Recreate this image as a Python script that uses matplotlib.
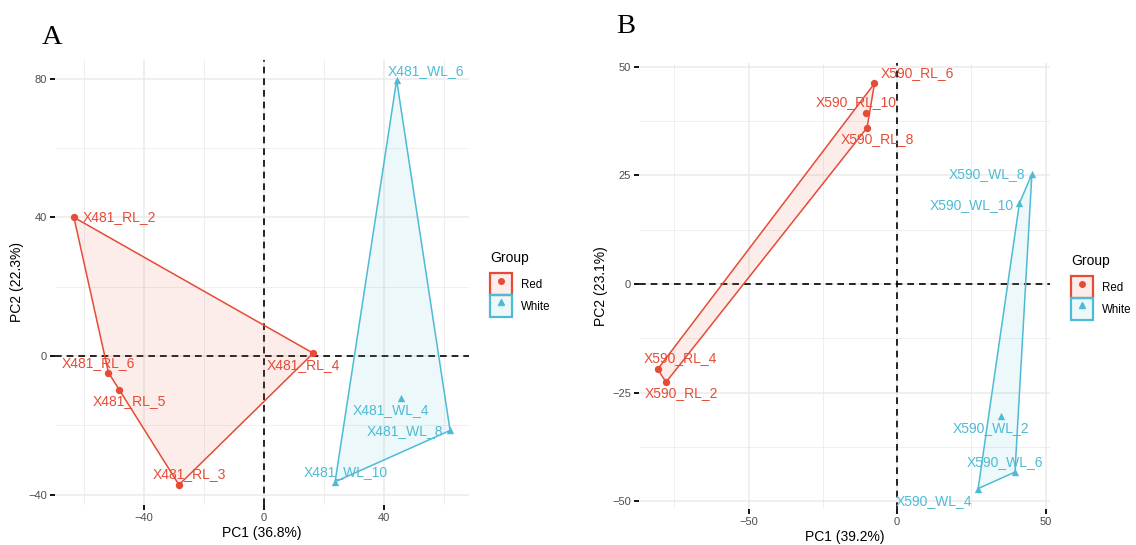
import matplotlib
matplotlib.use("Agg")
import matplotlib.pyplot as plt
from matplotlib.patches import Patch, Polygon
from matplotlib.lines import Line2D
import numpy as np

plt.rcParams['font.family'] = ['Liberation Sans', 'DejaVu Sans']

RED = "#E64B35"
BLUE = "#4DBBD5"

# panel A samples
a_red_names = ["X481_RL_2", "X481_RL_6", "X481_RL_5", "X481_RL_3", "X481_RL_4"]
a_red_pc1 = [-63.3, -51.8, -48.2, -28.3, 16.4]
a_red_pc2 = [40.0, -4.8, -9.7, -37.2, 0.8]
a_white_names = ["X481_WL_6", "X481_WL_4", "X481_WL_8", "X481_WL_10"]
a_white_pc1 = [44.2, 45.6, 62.0, 23.7]
a_white_pc2 = [79.6, -12.0, -21.5, -36.3]

# panel B samples
b_red_names = ["X590_RL_6", "X590_RL_10", "X590_RL_8", "X590_RL_4", "X590_RL_2"]
b_red_pc1 = [-7.6, -10.3, -10.1, -80.6, -77.8]
b_red_pc2 = [46.2, 39.3, 36.0, -19.6, -22.6]
b_white_names = ["X590_WL_8", "X590_WL_10", "X590_WL_2", "X590_WL_6", "X590_WL_4"]
b_white_pc1 = [45.4, 41.2, 35.0, 39.7, 27.3]
b_white_pc2 = [25.3, 18.6, -30.5, -43.3, -47.1]

# label offsets in pixels (dx, dy)
a_red_off = [(46, 0), (-10, 10), (10, -11), (10, 11), (-10, -12)]
a_white_off = [(29, 9), (-10, -12), (-45, -1), (11, 10)]
b_red_off = [(43, 10), (-10, 11), (10, -11), (23, 11), (15, -11)]
b_white_off = [(-45, 0), (-48, -2), (-10, -12), (-10, 10), (-44, -12)]


def hull(xs, ys):
    pts = sorted(zip(xs, ys))
    def cross(o, a, b):
        return (a[0]-o[0])*(b[1]-o[1]) - (a[1]-o[1])*(b[0]-o[0])
    lower, upper = [], []
    for p in pts:
        while len(lower) >= 2 and cross(lower[-2], lower[-1], p) <= 0:
            lower.pop()
        lower.append(p)
    for p in reversed(pts):
        while len(upper) >= 2 and cross(upper[-2], upper[-1], p) <= 0:
            upper.pop()
        upper.append(p)
    return lower[:-1] + upper[:-1]


def draw_group(ax, xs, ys, names, offs, color, marker):
    h = hull(xs, ys)
    ax.add_patch(Polygon(h, closed=True, facecolor=color, alpha=0.1, edgecolor='none', zorder=2))
    ax.add_patch(Polygon(h, closed=True, facecolor='none', edgecolor=color, lw=1.1, zorder=3))
    ax.scatter(xs, ys, color=color, marker=marker, s=28, zorder=4, linewidths=0)
    for x, y, n, (dx, dy) in zip(xs, ys, names, offs):
        ax.annotate(n, (x, y), xytext=(dx, dy), textcoords='offset pixels',
                    ha='center', va='center', color=color, fontsize=10, zorder=5)


def style(ax, xmaj, xmin, ymaj, ymin, xlab, ylab):
    for s in ax.spines.values():
        s.set_visible(False)
    ax.set_xticks(xmaj)
    ax.set_xticks(xmin, minor=True)
    ax.set_yticks(ymaj)
    ax.set_yticks(ymin, minor=True)
    ax.grid(which='major', color='#EBEBEB', lw=1.1, zorder=0)
    ax.grid(which='minor', color='#EBEBEB', lw=0.55, zorder=0)
    ax.set_axisbelow(True)
    ax.tick_params(which='major', length=3.6, width=1.3, color='black',
                   labelsize=8, labelcolor='#4D4D4D', pad=2)
    ax.tick_params(which='minor', length=0)
    ax.axhline(0, color='black', lw=1.2, ls=(0, (4, 3)), zorder=1)
    ax.axvline(0, color='black', lw=1.2, ls=(0, (4, 3)), zorder=1)
    ax.set_xlabel(xlab, fontsize=10, labelpad=2)
    ax.set_ylabel(ylab, fontsize=10, labelpad=3)


def legend(fig, x, y):
    handles = [
        (Patch(facecolor=(0.902, 0.294, 0.208, 0.1), edgecolor=RED, lw=1.6),
         Line2D([], [], color=RED, marker='o', ls='', markersize=4)),
        (Patch(facecolor=(0.302, 0.733, 0.835, 0.1), edgecolor=BLUE, lw=1.6),
         Line2D([], [], color=BLUE, marker='^', ls='', markersize=4)),
    ]
    leg = fig.legend(handles, ["Red", "White"], title="Group", loc='upper left',
                     bbox_to_anchor=(x / 1136, 1 - y / 545), frameon=False,
                     fontsize=8.3, title_fontsize=10, handlelength=1.9,
                     handleheight=2.55, labelspacing=0.0, borderpad=0,
                     handletextpad=0.75, borderaxespad=0)
    leg._legend_box.align = 'left'
    leg._legend_box.sep = 6


fig = plt.figure(figsize=(11.36, 5.45), dpi=100)

axA = fig.add_axes([55 / 1136, 1 - 505 / 545, 414 / 1136, 445 / 545])
draw_group(axA, a_red_pc1, a_red_pc2, a_red_names, a_red_off, RED, 'o')
draw_group(axA, a_white_pc1, a_white_pc2, a_white_names, a_white_off, BLUE, '^')
style(axA, [-40, 0, 40], [-60, -20, 20, 60], [-40, 0, 40, 80], [-20, 20, 60],
      "PC1 (36.8%)", "PC2 (22.3%)")
axA.set_xlim(-69.6, 68.3)
axA.set_ylim(-43.0, 85.4)

axB = fig.add_axes([639 / 1136, 1 - 509 / 545, 411 / 1136, 446 / 545])
draw_group(axB, b_red_pc1, b_red_pc2, b_red_names, b_red_off, RED, 'o')
draw_group(axB, b_white_pc1, b_white_pc2, b_white_names, b_white_off, BLUE, '^')
style(axB, [-50, 0, 50], [-75, -25, 25], [-50, -25, 0, 25, 50],
      [-37.5, -12.5, 12.5, 37.5], "PC1 (39.2%)", "PC2 (23.1%)")
axB.set_xlim(-86.9, 51.5)
axB.set_ylim(-51.8, 50.9)

legend(fig, 490, 251)
legend(fig, 1071, 254)

fig.text(42 / 1136, 1 - 44 / 545, "A", fontsize=20.5, family='Liberation Serif')
fig.text(616 / 1136, 1 - 33 / 545, "B", fontsize=20.5, family='Liberation Serif')

fig.savefig("out.png", dpi=100)
